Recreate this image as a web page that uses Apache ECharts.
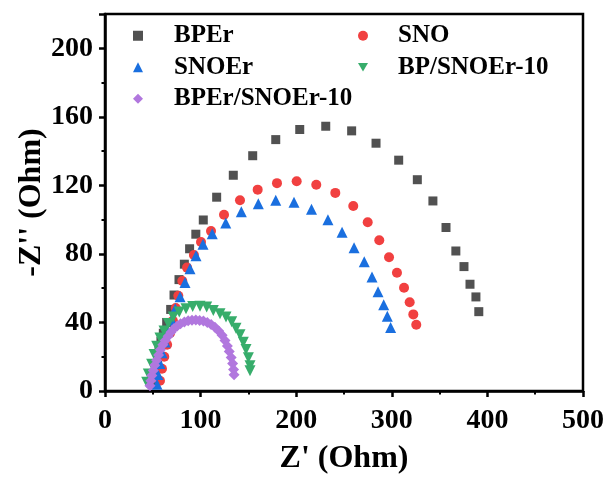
<!DOCTYPE html>
<html>
<head>
<meta charset="utf-8">
<script src="https://cdn.jsdelivr.net/npm/echarts@6/dist/echarts.min.js"></script>
<style>
  html, body { margin: 0; padding: 0; background: #ffffff; }
  #chart { width: 609px; height: 480px; }
</style>
</head>
<body>
<div id="chart"></div>
<script>
// Nyquist plot: Z' (real) vs -Z'' (imaginary), in Ohm
const seriesNames = ['BPEr', 'SNO', 'SNOEr', 'BP/SNOEr-10', 'BPEr/SNOEr-10'];

const bperX = [52, 53, 54, 55, 56.5, 58.5, 61, 64.5, 68.7, 72.2, 77.4, 83, 88.5, 95, 102.8, 116.8, 134.2, 154.5, 178.6, 203.7, 230.9, 258, 283.5, 307.2, 326.7, 343, 356.7, 367, 375.5, 381.8, 388, 391];
const bperY = [4, 9, 14, 19, 24, 29, 33.7, 40, 47.6, 56, 65, 74, 83, 91.5, 99.8, 113.1, 125.9, 137.3, 146.7, 152.6, 154.5, 151.8, 144.6, 134.7, 123.3, 110.9, 95.4, 81.7, 72.6, 62.3, 54.9, 46.3];

const snoX = [57.5, 59.6, 62, 65, 68, 71, 74, 76.7, 80.9, 85.8, 93, 100.4, 110.9, 124.5, 141.2, 159.7, 179.9, 200.5, 221, 240.9, 259.7, 274.8, 286.9, 297.1, 305.4, 312.8, 318.7, 322.5, 325.6];
const snoY = [6, 13, 20, 27, 33.7, 41, 48.4, 55.6, 64.2, 72, 79.4, 86.9, 93.3, 102.9, 111.3, 117.5, 121.3, 122.4, 120.4, 115.6, 108, 98.5, 88, 78.1, 69, 60.2, 51.8, 44.7, 38.7];

const snoerX = [54.4, 55.4, 57.5, 59.6, 62.8, 66, 69.8, 73.5, 78.5, 83.7, 88.9, 95.2, 102.5, 112.2, 126.3, 142.6, 160.4, 178.6, 197.7, 216, 233.2, 248, 260.5, 271.2, 279.3, 285.6, 291.5, 295.3, 298.8];
const snoerY = [4, 9.7, 16, 22.3, 28.6, 35, 41.3, 48, 55, 63.3, 71.4, 78.9, 85.7, 91.8, 98.1, 104.6, 109.3, 111.3, 110.1, 106, 99.9, 92.7, 83.6, 75.4, 66.5, 57.9, 50.3, 43.6, 37];

const bpsX = [43.6, 45.3, 48.8, 51.3, 54.1, 57.5, 61.7, 66.2, 71.4, 77.7, 84.7, 91.7, 99.4, 106.4, 113.3, 120.3, 126.6, 132.5, 137, 141.2, 144.7, 147.5, 150, 151.7, 151.7];
const bpsY = [5.1, 9.9, 15.6, 21.3, 26.1, 30.9, 35, 39.4, 43.2, 46.1, 48, 49.3, 49.5, 49, 47, 45.1, 43.2, 40.4, 36.6, 32.8, 28.4, 24.2, 19.4, 14.7, 11.8];

const bpersX = [47, 48, 49, 50.5, 52, 54, 56, 58, 60.5, 63, 66, 69, 72, 75.5, 79, 83, 87, 91, 95, 99, 103, 107, 111, 115, 119, 122.5, 125.5, 128, 130, 132, 133.5, 134.5, 135];
const bpersY = [3, 6, 9, 12, 15, 18, 21, 24, 27, 29.5, 32, 34.3, 36.3, 38, 39.3, 40.3, 41, 41.3, 41.5, 41.2, 40.8, 40, 38.8, 37.2, 35, 32.5, 29.5, 26.3, 23, 19.5, 16, 12.5, 9.5];

const xTicks = [0, 100, 200, 300, 400, 500];
const yTicks = [0, 40, 80, 120, 160, 200];

const colors = ['#515151', '#F14040', '#1A6FDF', '#37AD6B', '#B177DE'];
const symbols = ['rect', 'circle', 'triangle', 'triangle', 'diamond'];
const symbolSizes = [9, 10, 11, 11, 11];
const symbolRotates = [0, 0, 0, 180, 0];
// legend icons: the fourth series uses a downward triangle
const legendIcons = ['rect', 'circle', 'triangle', 'path://M0,0L10,0L5,8.7Z', 'diamond'];

const pairs = (xs, ys) => xs.map((x, i) => [x, ys[i]]);
const dataSets = [
  pairs(bperX, bperY),
  pairs(snoX, snoY),
  pairs(snoerX, snoerY),
  pairs(bpsX, bpsY),
  pairs(bpersX, bpersY)
];

const serif = '"Liberation Serif", "Times New Roman", serif';
const axisLine = { show: true, onZero: false, lineStyle: { color: '#000', width: 2.5 } };

const legendText = (gap) => ({
  fontFamily: serif, fontWeight: 'bold', fontSize: 25, color: '#000',
  lineHeight: 31.5, padding: [0, 0, 0, gap]
});
const legendItem = (i) => ({ name: seriesNames[i], icon: legendIcons[i] });

const chart = echarts.init(document.getElementById('chart'), null, { renderer: 'canvas' });
chart.setOption({
  animation: false,
  backgroundColor: '#ffffff',
  grid: {
    left: 105, right: 26, top: 14, bottom: 81,
    show: true, borderColor: '#000', borderWidth: 2.5, backgroundColor: 'transparent'
  },
  legend: [
    {
      data: [legendItem(0), legendItem(2), legendItem(4)],
      orient: 'vertical', left: 128, top: 15,
      itemWidth: 10, itemHeight: 10, itemGap: 0,
      textStyle: legendText(26)
    },
    {
      data: [legendItem(1), legendItem(3)],
      orient: 'vertical', left: 353, top: 15,
      itemWidth: 10, itemHeight: 10, itemGap: 0,
      textStyle: legendText(25)
    }
  ],
  xAxis: {
    type: 'value', min: xTicks[0], max: xTicks[xTicks.length - 1], interval: 100,
    name: "Z' (Ohm)", nameLocation: 'middle', nameGap: 52, nameMoveOverlap: false,
    nameTextStyle: { fontFamily: serif, fontWeight: 'bold', fontSize: 32, color: '#000' },
    axisLine: axisLine,
    axisTick: { show: true, inside: false, length: 6, lineStyle: { width: 2.5, color: '#000' } },
    minorTick: { show: true, splitNumber: 2, length: 3.5, lineStyle: { width: 2, color: '#000' } },
    axisLabel: { margin: 16, fontFamily: serif, fontWeight: 'bold', fontSize: 28, color: '#000' },
    splitLine: { show: false }
  },
  yAxis: {
    type: 'value', min: 0, max: 220, interval: 40,
    name: "-Z'' (Ohm)", nameLocation: 'middle', nameGap: 57, nameMoveOverlap: false,
    nameTextStyle: { fontFamily: serif, fontWeight: 'bold', fontSize: 32, color: '#000' },
    axisLine: axisLine,
    axisTick: { show: true, inside: false, length: 6, lineStyle: { width: 2.5, color: '#000' } },
    minorTick: { show: true, splitNumber: 2, length: 3.5, lineStyle: { width: 2, color: '#000' } },
    axisLabel: {
      margin: 12, fontFamily: serif, fontWeight: 'bold', fontSize: 28, color: '#000',
      formatter: v => (yTicks.indexOf(v) >= 0 ? String(v) : '')
    },
    splitLine: { show: false }
  },
  series: seriesNames.map((name, i) => ({
    name: name,
    type: 'scatter',
    data: dataSets[i],
    symbol: symbols[i],
    symbolSize: symbolSizes[i],
    symbolRotate: symbolRotates[i],
    itemStyle: { color: colors[i], opacity: 1 },
    z: 2 + i
  }))
});
</script>
</body>
</html>
